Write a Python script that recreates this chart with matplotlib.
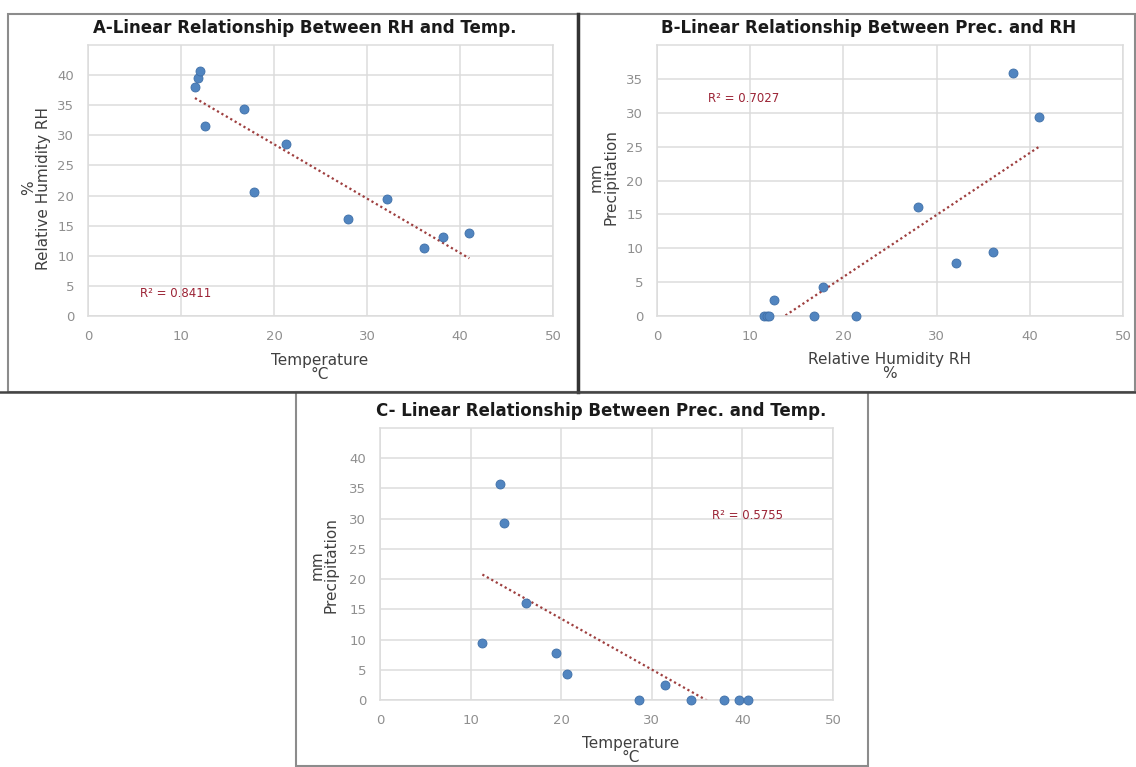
import numpy as np
import matplotlib
matplotlib.use("Agg")
import matplotlib.pyplot as plt
from matplotlib.patches import Rectangle

# ---------------- data (monthly values) ----------------
temperature = [11.3, 13.2, 13.7, 16.1, 19.4, 20.6, 28.6, 31.5, 34.3, 38.0, 39.6, 40.6]
humidity = [36.1, 38.2, 41.0, 28.0, 32.1, 17.8, 21.3, 12.6, 16.8, 11.5, 11.8, 12.0]
precipitation = [9.4, 35.8, 29.3, 16.1, 7.8, 4.3, 0.0, 2.4, 0.0, 0.0, 0.0, 0.0]

titles = ["A-Linear Relationship Between RH and Temp.",
          "B-Linear Relationship Between Prec. and RH",
          "C- Linear Relationship Between Prec. and Temp."]
r2_labels = ["R² = 0.8411", "R² = 0.7027", "R² = 0.5755"]
x_labels = ["Temperature\n°C", "Relative Humidity RH\n%", "Temperature\n°C"]
y_labels = ["%\nRelative Humidity RH", "mm\nPrecipitation", "mm\nPrecipitation"]
x_ticks = [0, 10, 20, 30, 40, 50]
y_ticks_a = [0, 5, 10, 15, 20, 25, 30, 35, 40]
y_ticks_b = [0, 5, 10, 15, 20, 25, 30, 35]
y_ticks_c = [0, 5, 10, 15, 20, 25, 30, 35, 40]

# ---------------- style ----------------
W, H = 1136, 767
plt.rcParams['font.family'] = ['DejaVu Sans']
fig = plt.figure(figsize=(W / 100, H / 100), dpi=100)
fig.patch.set_facecolor('white')

GRID = '#dcdcdc'
TICK = '#8f8f8f'
DOT = '#5185c0'
TREND = '#9e3f3f'
R2C = '#9b2335'


def fx(px):
    return px / W


def fy(py):
    return 1 - py / H


def panel(rect_px, xs, ys, yticks, ytop, title, title_xy, r2, r2_xy,
          xlabel, xlabel_xy, ylabel, ylabel_xy):
    l, t, r, b = rect_px
    ax = fig.add_axes([fx(l), fy(b), fx(r - l), (b - t) / H])
    ax.set_xlim(0, 50)
    ax.set_ylim(0, ytop)
    ax.set_xticks(x_ticks)
    ax.set_yticks(yticks)
    ax.grid(True, color=GRID, lw=1.1)
    ax.set_axisbelow(True)
    for s in ax.spines.values():
        s.set_color(GRID)
        s.set_linewidth(1.1)
    ax.tick_params(length=0, labelsize=9.5, labelcolor=TICK, pad=10)
    ax.scatter(xs, ys, s=42, color=DOT, edgecolors='#3f6fa8', linewidths=0.6,
               zorder=3, clip_on=False)
    k, c = np.polyfit(xs, ys, 1)
    xx = np.array([min(xs), max(xs)])
    ax.plot(xx, k * xx + c, color=TREND, lw=1.6, ls=(0, (1, 1.3)), zorder=2)
    ax.text(r2_xy[0], r2_xy[1], r2, color=R2C, fontsize=8.5, ha='left',
            va='center', transform=ax.transData)
    fig.text(fx(title_xy[0]), fy(title_xy[1]), title, fontsize=12,
             fontweight='bold', ha='center', va='center', color='#1a1a1a')
    fig.text(fx(xlabel_xy[0]), fy(xlabel_xy[1]), xlabel, fontsize=11,
             ha='center', va='top', ma='center', color='#404040',
             linespacing=0.95)
    fig.text(fx(ylabel_xy[0]), fy(ylabel_xy[1]), ylabel, fontsize=11,
             rotation=90, ha='right', va='center', ma='center',
             color='#404040', linespacing=0.95)
    return ax


# panel frames
fig.patches.append(Rectangle((fx(8), fy(392)), fx(578 - 8), (392 - 14) / H,
                             transform=fig.transFigure, fill=False,
                             edgecolor='#8c8c8c', lw=1.5))
fig.patches.append(Rectangle((fx(578), fy(392)), fx(1135 - 578), (392 - 14) / H,
                             transform=fig.transFigure, fill=False,
                             edgecolor='#8c8c8c', lw=1.5))
fig.patches.append(Rectangle((fx(296), fy(766)), fx(868 - 296), (766 - 392) / H,
                             transform=fig.transFigure, fill=False,
                             edgecolor='#8c8c8c', lw=1.5))
fig.add_artist(plt.Line2D([fx(578), fx(578)], [fy(14), fy(392)],
                          transform=fig.transFigure, color='#333333', lw=2.5))
fig.add_artist(plt.Line2D([0, 1], [fy(392), fy(392)],
                          transform=fig.transFigure, color='#444444', lw=1.8))

# A: RH vs temperature
panel((88, 45, 553, 316), humidity, temperature, y_ticks_a, 45,
      titles[0], (305, 28), r2_labels[0], (5.6, 3.8),
      x_labels[0], (320, 353), y_labels[0], (51, 188))

# B: precipitation vs RH
panel((657, 45, 1123, 316), humidity, precipitation, y_ticks_b, 40,
      titles[1], (869, 28), r2_labels[1], (5.5, 32.1),
      x_labels[1], (889, 352), y_labels[1], (618, 177))

# C: precipitation vs temperature
panel((380, 428, 833, 700), temperature, precipitation, y_ticks_c, 45,
      titles[2], (601, 411), r2_labels[2], (36.6, 30.6),
      x_labels[2], (631, 736), y_labels[2], (339, 565))

fig.savefig('out.png', dpi=100, facecolor='white')
